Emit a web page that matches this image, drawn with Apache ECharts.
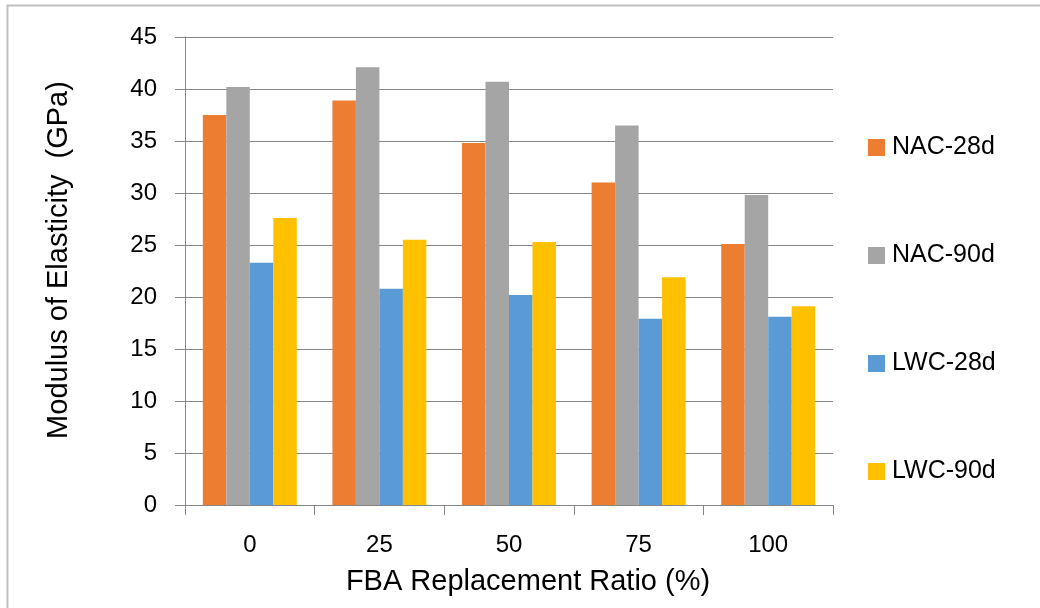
<!DOCTYPE html>
<html>
<head>
<meta charset="utf-8">
<script src="https://cdn.jsdelivr.net/npm/echarts@6/dist/echarts.min.js"></script>
<style>html,body{margin:0;padding:0;background:#fff;}#c{width:1040px;height:608px;}</style>
</head>
<body>
<div id="c"></div>
<script>
var categories = ['0', '25', '50', '75', '100'];
var seriesNames = ['NAC-28d', 'NAC-90d', 'LWC-28d', 'LWC-90d'];
var nac28 = [37.5, 38.9, 34.8, 31.0, 25.1];
var nac90 = [40.2, 42.1, 40.7, 36.5, 29.8];
var lwc28 = [23.3, 20.8, 20.2, 17.9, 18.1];
var lwc90 = [27.6, 25.5, 25.3, 21.9, 19.1];
var colors = ['#ED7D31', '#A5A5A5', '#5B9BD5', '#FFC000'];
var seriesData = [nac28, nac90, lwc28, lwc90];

var chart = echarts.init(document.getElementById('c'), null, {renderer: 'canvas'});
var font = 'Arial, "Liberation Sans", sans-serif';
var option = {
  animation: false,
  backgroundColor: '#fff',
  color: colors,
  graphic: [{
    type: 'polyline',
    shape: {points: [[7.5, 620], [7.5, 5.5], [1050, 5.5]]},
    style: {stroke: '#BFBFBF', lineWidth: 2, fill: null},
    silent: true
  }],
  grid: {left: 185, right: 207, top: 37, bottom: 103},
  legend: {
    orient: 'vertical',
    left: 868,
    top: 135,
    padding: 0,
    itemGap: 83,
    itemWidth: 17,
    itemHeight: 17,
    icon: 'rect',
    textStyle: {fontFamily: font, fontSize: 25, lineHeight: 24, color: '#000', padding: [0, 0, 0, 2]},
    data: seriesNames
  },
  xAxis: {
    type: 'category',
    data: categories,
    name: 'FBA Replacement Ratio (%)',
    nameLocation: 'middle',
    nameGap: 62,
    nameTextStyle: {fontFamily: font, fontSize: 29, color: '#000', padding: [0, 0, 0, 38]},
    axisLine: {lineStyle: {color: '#868686', width: 1}},
    axisTick: {show: true, length: 10, lineStyle: {color: '#868686'}},
    axisLabel: {fontFamily: font, fontSize: 24, color: '#000', margin: 28}
  },
  yAxis: {
    type: 'value',
    min: 0,
    max: 45,
    interval: 5,
    name: 'Modulus of Elasticity  (GPa)',
    nameLocation: 'middle',
    nameGap: 112,
    nameTextStyle: {fontFamily: font, fontSize: 29, color: '#000', padding: [0, 0, 0, 22]},
    axisLine: {show: true, lineStyle: {color: '#868686', width: 1}},
    axisTick: {show: true, length: 10, lineStyle: {color: '#868686'}},
    axisLabel: {fontFamily: font, fontSize: 24, color: '#000', margin: 28},
    splitLine: {lineStyle: {color: '#868686', width: 1}}
  },
  series: seriesNames.map(function (n, i) {
    return {
      name: n,
      type: 'bar',
      data: seriesData[i],
      barGap: '0%',
      barCategoryGap: '27.5%',
      itemStyle: {color: colors[i]}
    };
  })
};
chart.setOption(option);
</script>
</body>
</html>
